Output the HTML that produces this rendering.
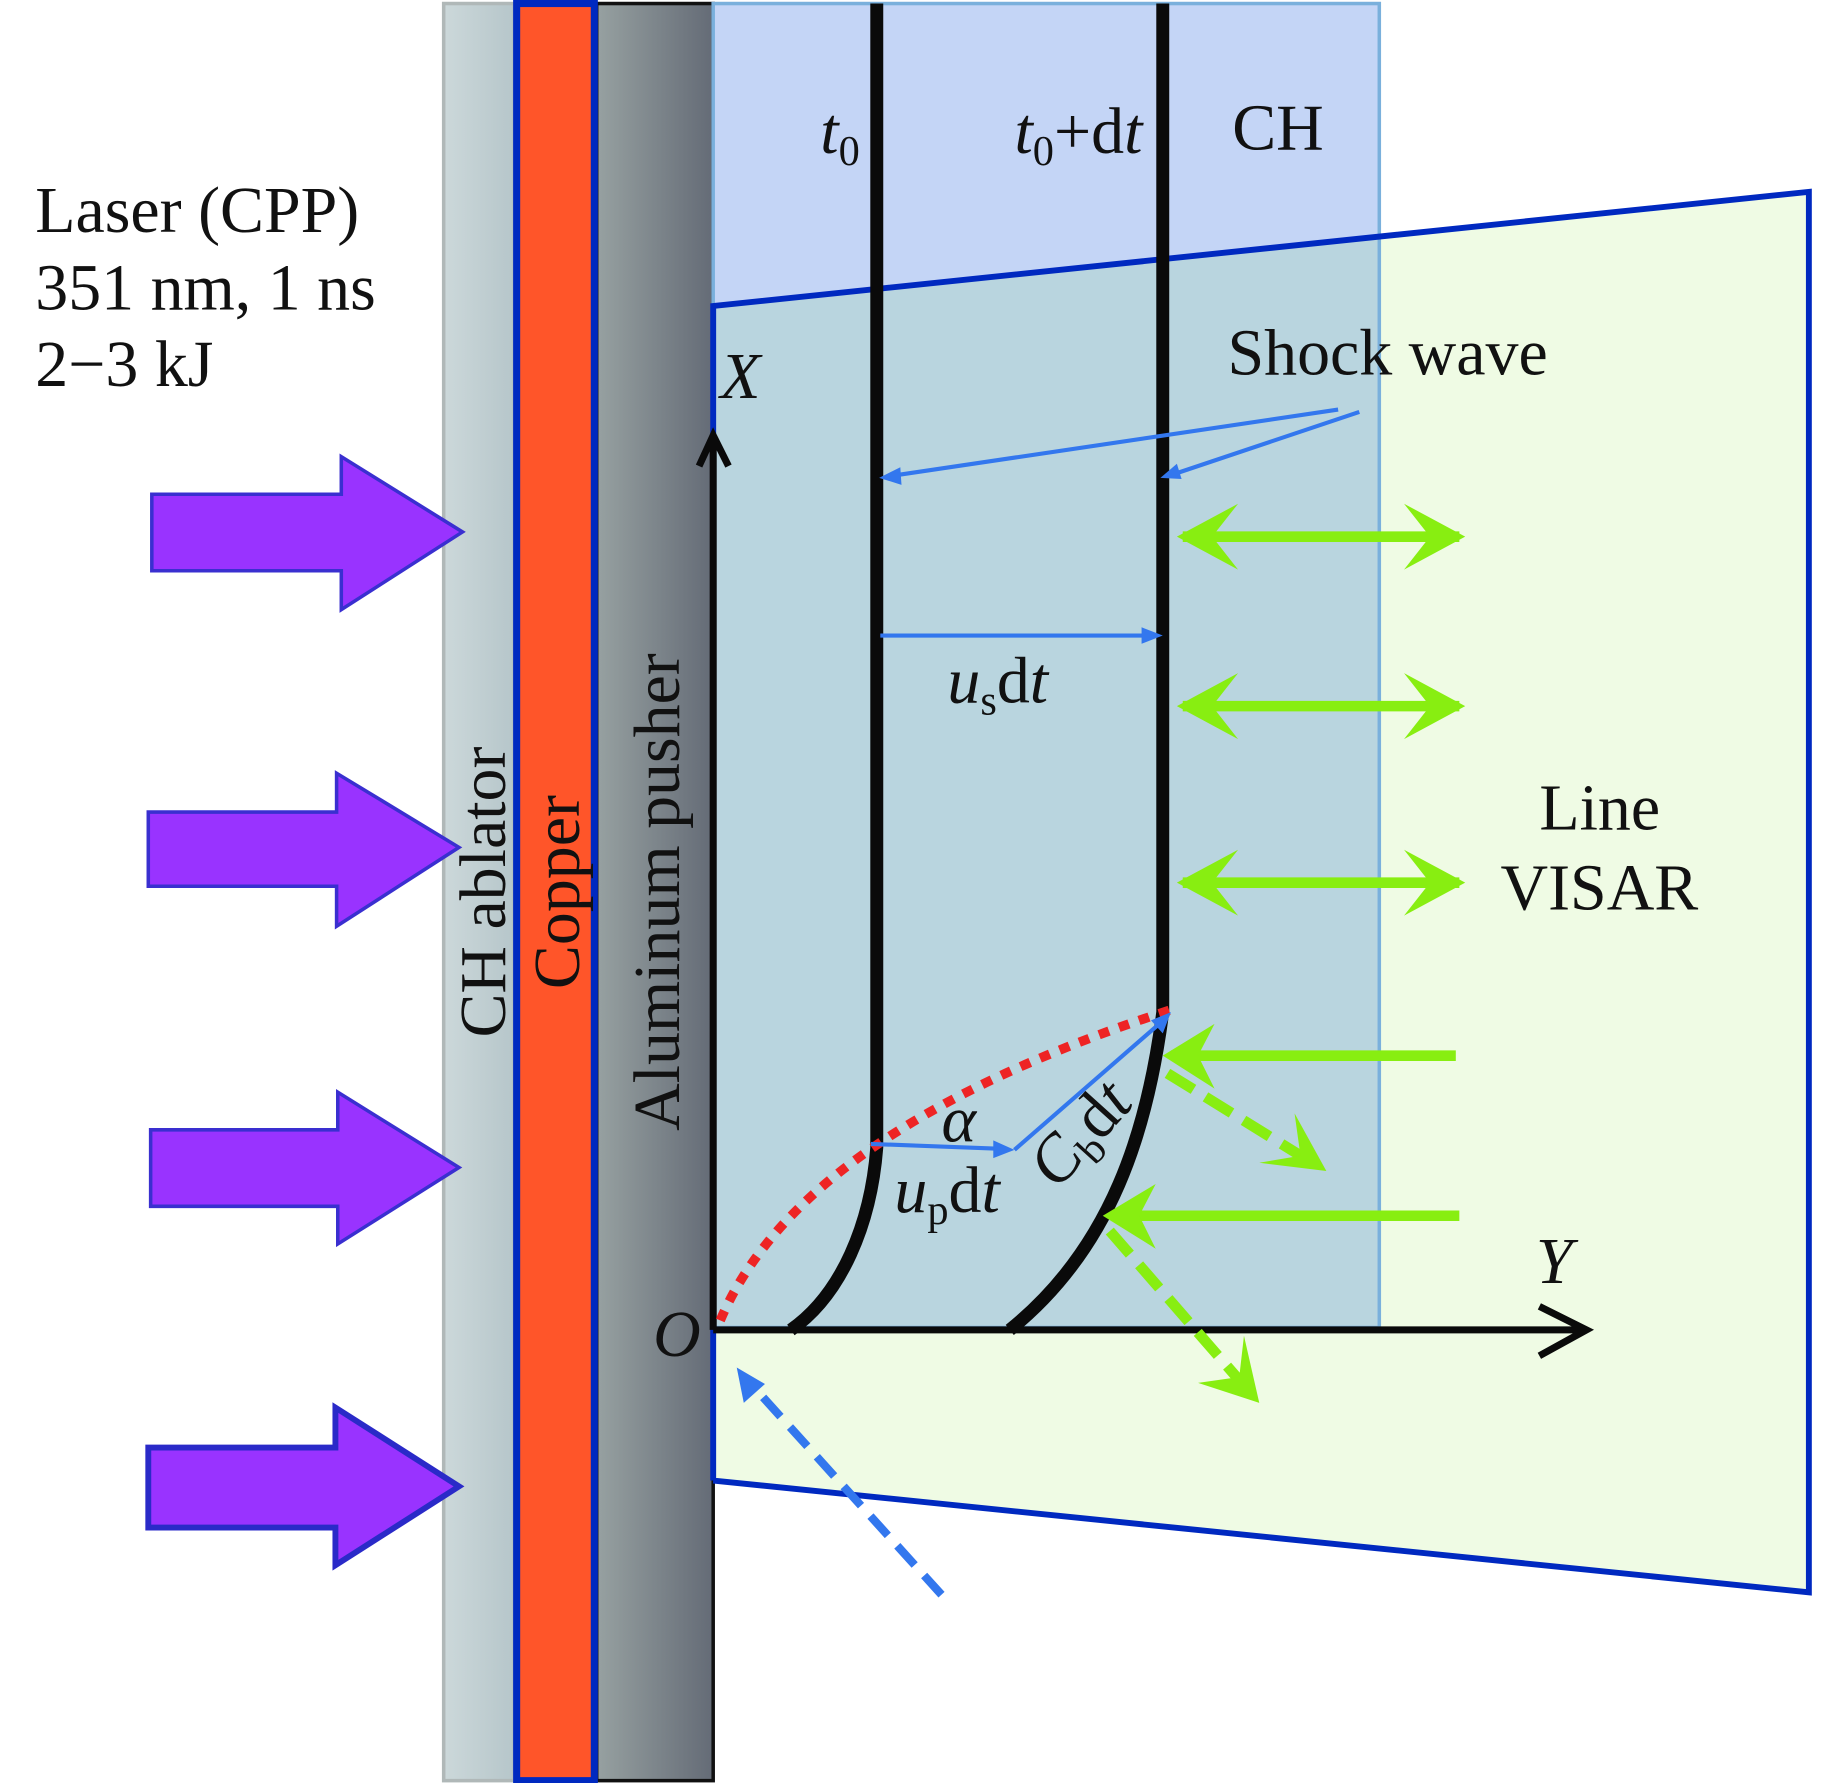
<!DOCTYPE html>
<html><head><meta charset="utf-8"><style>
html,body{margin:0;padding:0;background:#fff;}
svg{display:block;}
text{font-family:"Liberation Serif",serif;fill:#111;}
</style></head><body>
<svg width="1843" height="1783" viewBox="0 0 1566 1515" preserveAspectRatio="none" xmlns="http://www.w3.org/2000/svg">
<defs>
<linearGradient id="gch" x1="0" x2="1"><stop offset="0" stop-color="#ccd8da"/><stop offset="1" stop-color="#b6c6ca"/></linearGradient>
<linearGradient id="gal" x1="0" x2="1"><stop offset="0" stop-color="#97a1a1"/><stop offset="1" stop-color="#646b76"/></linearGradient>
</defs>
<rect x="377" y="3" width="60" height="1510" fill="url(#gch)" stroke="#b0b8b8" stroke-width="3"/>
<rect x="507" y="3" width="99" height="1510" fill="url(#gal)" stroke="#111" stroke-width="3"/>
<rect x="439" y="3" width="66" height="1510" fill="#ff5529" stroke="#0029c0" stroke-width="6"/>
<rect x="606" y="3" width="566" height="1125" fill="#c4d5f6"/>
<polygon points="606,260 1537,163 1537,1353 606,1258" fill="#effbe4"/>
<polygon points="606,260 1172,201 1172,1128 606,1128" fill="#b9d5df"/>
<rect x="606" y="3" width="566" height="1125" fill="none" stroke="#7ab0dc" stroke-width="3"/>
<polyline points="606,1258 1537,1353 1537,163 606,260 606,1258" fill="none" stroke="#0029c0" stroke-width="5"/>
<path d="M745,3 L745,975 C740,1040 715,1100 672,1130" fill="none" stroke="#0a0a0a" stroke-width="11"/>
<path d="M988,3 L988,860 C975,960 945,1060 858,1130" fill="none" stroke="#0a0a0a" stroke-width="11"/>
<path d="M606,1130 L606,372 M594,396 L606,370 L619,396" fill="none" stroke="#0a0a0a" stroke-width="6"/>
<path d="M606,1130 L1348,1130 M1308,1110 L1348,1130 L1308,1152" fill="none" stroke="#0a0a0a" stroke-width="6"/>
<path d="M612,1122 Q680,960 995,858" fill="none" stroke="#ee2424" stroke-width="8" stroke-dasharray="9 9"/>
<g fill="#9933ff" stroke="#3a2fd0" stroke-width="3">
<polygon points="129,420 290,420 290,388 393,452 290,518 290,485 129,485"/>
<polygon points="126,690 286,690 286,657 390,720 286,787 286,753 126,753"/>
<polygon points="128,960 287,960 287,928 390,992 287,1057 287,1025 128,1025"/>
<polygon points="126,1230 285,1230 285,1196 390,1263 285,1330 285,1298 126,1298" stroke-width="5" stroke="#2a2ac8"/>
</g>
<g stroke="#3377ee" stroke-width="3.5" fill="none">
<line x1="1137" y1="348" x2="760" y2="404"/>
<line x1="1155" y1="350" x2="1000" y2="402"/>
<line x1="748" y1="540" x2="972" y2="540"/>
<line x1="740" y1="972" x2="848" y2="976"/>
<line x1="862" y1="977" x2="985" y2="870"/>
<line x1="800" y1="1355" x2="640" y2="1178" stroke-width="7" stroke-dasharray="22 12"/>
</g>
<g fill="#3377ee">
<polygon points="747,406 765,397 766,412"/>
<polygon points="986,406 1000,394 1004,407"/>
<polygon points="988,540 970,533 970,547"/>
<polygon points="862,977 844,969 844,984"/>
<polygon points="995,860 978,867 988,878"/>
<polygon points="626,1162 632,1192 650,1176"/>
</g>
<g stroke="#88ee11" stroke-width="9" fill="none">
<line x1="1005" y1="456" x2="1240" y2="456"/>
<line x1="1005" y1="600" x2="1240" y2="600"/>
<line x1="1005" y1="750" x2="1240" y2="750"/>
<line x1="995" y1="897" x2="1237" y2="897"/>
<line x1="945" y1="1033" x2="1240" y2="1033"/>
<line x1="992" y1="912" x2="1110" y2="985" stroke-dasharray="26 12"/>
<line x1="943" y1="1046" x2="1055" y2="1175" stroke-dasharray="26 12"/>
</g>
<g fill="#88ee11">
<polygon points="1000,456 1052,428 1030,456 1052,484"/>
<polygon points="1245,456 1193,428 1215,456 1193,484"/>
<polygon points="1000,600 1052,572 1030,600 1052,628"/>
<polygon points="1245,600 1193,572 1215,600 1193,628"/>
<polygon points="1000,750 1052,722 1030,750 1052,778"/>
<polygon points="1245,750 1193,722 1215,750 1193,778"/>
<polygon points="988,897 1032,870 1018,897 1032,925"/>
<polygon points="937,1033 982,1006 968,1033 982,1061"/>
<polygon points="1127,995 1100,946 1105,982 1070,988"/>
<polygon points="1070,1192 1057,1135 1053,1170 1018,1175"/>
</g>
<g font-size="56">
<text x="30" y="197">Laser (CPP)</text>
<text x="30" y="263">351 nm, 1 ns</text>
<text x="30" y="328">2−3 kJ</text>
<text x="697" y="130" font-style="italic">t<tspan font-style="normal" font-size="36" dy="10">0</tspan></text>
<text x="862" y="130"><tspan font-style="italic">t</tspan><tspan font-size="36" dy="10">0</tspan><tspan dy="-10">+d</tspan><tspan font-style="italic">t</tspan></text>
<text x="1047" y="127">CH</text>
<text x="612" y="338" font-style="italic">X</text>
<text x="1043" y="318">Shock wave</text>
<text x="805" y="597"><tspan font-style="italic">u</tspan><tspan font-size="36" dy="10">s</tspan><tspan dy="-10">d</tspan><tspan font-style="italic">t</tspan></text>
<text x="1308" y="705">Line</text>
<text x="1275" y="773">VISAR</text>
<text x="1305" y="1090" font-style="italic">Y</text>
<text x="555" y="1152" font-style="italic">O</text>
<text x="800" y="970" font-style="italic">α</text>
<text x="760" y="1030"><tspan font-style="italic">u</tspan><tspan font-size="36" dy="10">p</tspan><tspan dy="-10">d</tspan><tspan font-style="italic">t</tspan></text>
<text transform="translate(898,1012) rotate(-48)"><tspan font-style="italic">C</tspan><tspan font-size="36" dy="10">b</tspan><tspan dy="-10">d</tspan><tspan font-style="italic">t</tspan></text>
<text transform="translate(429,758) rotate(-90)" text-anchor="middle">CH ablator</text>
<text transform="translate(492,758) rotate(-90)" text-anchor="middle">Copper</text>
<text transform="translate(577,758) rotate(-90)" text-anchor="middle">Aluminum pusher</text>
</g>
</svg>
</body></html>
